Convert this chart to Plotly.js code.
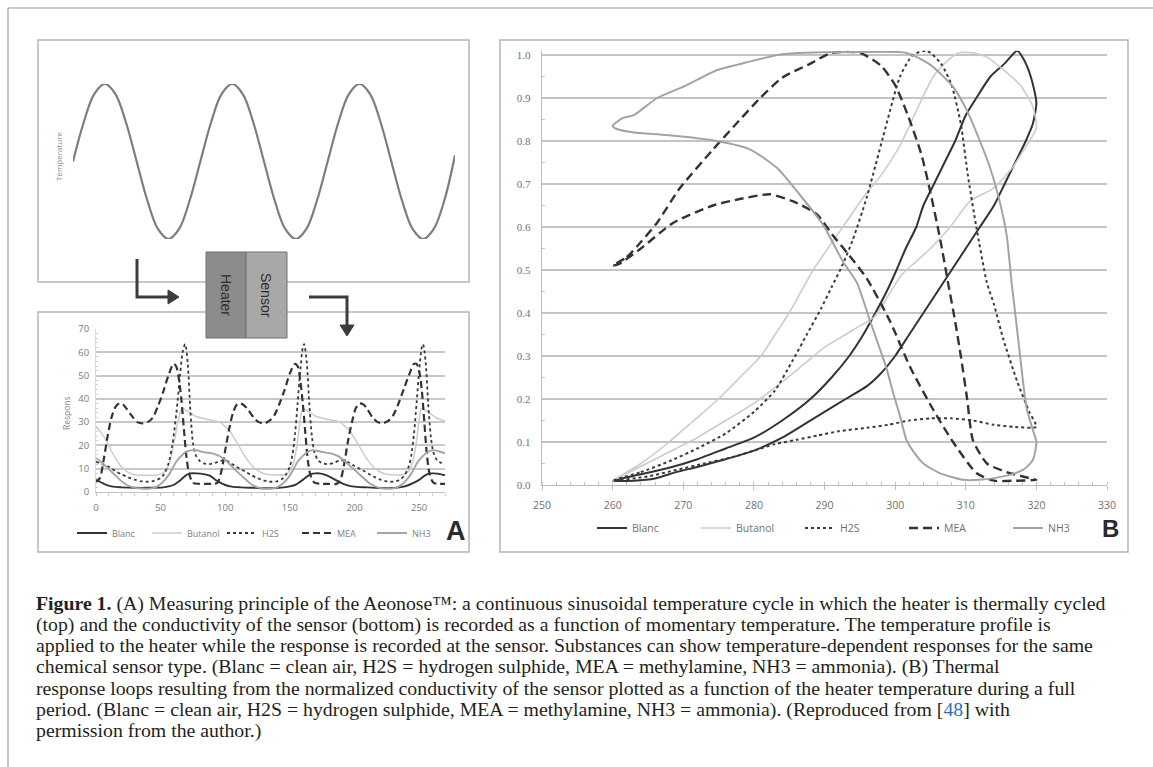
<!DOCTYPE html>
<html>
<head>
<meta charset="utf-8">
<script src="https://cdn.plot.ly/plotly-3.0.1.min.js"></script>
<style>html,body{margin:0;padding:0;background:#fff;}#chart{width:1153px;height:767px;}</style>
</head>
<body>
<div id="chart"></div>
<script>
// ---------- Panel A top: temperature profile (3 cycles, sampled 12 per cycle) ----------
const tempIdx = [0,1,2,3,4,5,6,7,8,9,10,11,12,13,14,15,16,17,18,19,20,21,22,23,24,25,26,27,28,29,30,31,32,33,34,35,36];
const tempVal = [0,0.5,0.87,1,0.87,0.5,0,-0.5,-0.87,-1,-0.87,-0.5,0,0.5,0.87,1,0.87,0.5,0,-0.5,-0.87,-1,-0.87,-0.5,0,0.5,0.87,1,0.87,0.5,0,-0.5,-0.87,-1,-0.87,-0.5,0.08];

// ---------- Panel A bottom: response vs time ----------
const aBlancT = [0,3,7,13,20,30,40,52,57,60,64,67,70,73,78,83,88,92,96,100,105,112,122,134,145,150,155,160,163,166,170,174,178,182,186,190,196,202,210,220,230,237,241,246,250,253,256,260,264,270];
const aBlancV = [5.2,4.4,3.3,2.3,2,1.8,1.8,2,2.5,3,4.5,5.9,7.3,8,8,7.7,7,5.4,4,3,2.3,2,1.8,1.6,2,2.4,3.3,5.2,6.5,7.6,8,7.9,7.2,6.2,5,3.8,2.6,2.2,2,1.7,1.7,2.2,2.8,4,5.2,6.5,7.6,8,7.9,7.2];

const aButT = [0,4,8,12,16,20,24,28,32,40,47,51,54,57,60,63,65,67,70,74,78,84,88,92,96,100,103,107,111,115,119,123,127,132,139,146,150,153,156,158,160,163,167,171,177,181,189,193,196,200,204,208,212,216,220,225,232,238,242,245,248,250,252,255,259,263,267,270];
const aButV = [28,25.5,22,17.5,13.7,10.5,8.7,7.6,7.3,7.2,7.3,8,9.4,13,20,29,34,36,35,33.5,32.3,31.5,31,30.5,30,28,26.6,23,19.4,15.5,12.4,10,8.6,7.6,7.3,7.5,9,13,22,31,36,35,33.5,32.3,31.5,31,30,28,26.6,23,19.4,15.5,12.4,10,8.6,7.6,7.3,7.5,9,13,22,31,36,35,33.5,32,31,30.5];

const aH2ST = [0,5,10,15,20,25,30,35,40,45,50,53,56,59,62,65,67,69,71,73,75,77,80,84,88,92,96,100,104,108,112,116,120,124,128,132,136,140,144,147,150,152,154,156,158,160,161,163,165,167,169,172,176,180,184,188,192,196,200,204,208,212,216,220,224,228,232,236,239,242,244,246,248,250,252,253,255,257,259,261,264,267,270];
const aH2SV = [13,12,10.8,9,7.5,6.3,5.3,4.6,4.4,4.8,6,8,12,20,33,50,60,63.5,55,35,21,16,13.5,12.2,12,12.5,13.3,13.6,12.5,11,9.8,8.6,7.3,6.2,5.3,4.7,4.4,4.6,5.6,7.5,11,16,25,38,52,62,63.5,56,38,24,17,13.5,12.2,12,12.5,13.5,13.5,12.5,11.2,10,8.8,7.5,6.3,5.3,4.7,4.4,4.6,5.6,7.5,11,16,25,38,52,62,63.5,56,38,24,17,13.5,12.5,12];

const aMEAT = [0,3,6,9,12,15,18,21,24,28,32,36,40,44,48,52,56,60,62,64,66,68,70,72,75,80,85,90,94,97,100,103,106,109,112,115,118,122,126,130,134,138,142,146,150,154,156,158,160,162,164,166,169,175,180,186,189,192,195,198,201,204,207,210,214,218,222,226,230,234,238,242,246,248,250,252,254,256,258,261,265,270];
const aMEAV = [4,6,14,24,32,36.5,38,37.5,35.5,32.5,30,29.5,30,32,37,43,50,55,54,49,40,27,15,8,4,3.5,3.5,3.5,4,9,18,27,34,37.5,38,37,35,32,30,29.5,30.5,33,38,44,51,55,54,48,38,25,13,7,4,3.5,3.5,3.5,5,12,22,30,36,38,37.5,35.5,32,30,29.5,30.5,33,38,44,50,55,55,52,44,30,16,8,4,3.5,3.5];

const aNH3T = [0,4,8,12,16,20,24,29,35,42,46,49,53,57,62,66,70,75,79,83,90,94,98,102,106,110,114,118,121,125,129,136,140,143,147,151,156,160,164,168,172,177,183,187,191,195,199,203,207,211,214,218,222,229,233,236,240,244,249,253,257,261,265,270];
const aNH3V = [14.6,12.8,10.9,8.7,6.6,4.5,3,1.9,1.5,1.5,2,3,5,8,13,15.5,17.3,18,17.8,17.1,16.6,15.8,14.6,12.8,10.5,8.3,6.3,4.3,3,2,1.5,1.5,2,3,5,8,13,15.5,17.3,18,17.6,17,16.4,15.5,14,12,10,8,6,4,3,2,1.5,1.5,2,3,5,8,13,15.5,17.3,18,17.5,16.6];

// ---------- Panel B: normalized response vs heater temperature (loops) ----------
const bBlancT = [260,263,266,269,272,276,280,284,287,290,293,296,298,300,302,304,306,308,310,312,314,315.5,317,318.5,319.5,320,319.2,318.2,317.3,315.5,313.5,311.5,310,308.5,307,305.5,304,303,301.5,300.2,298.8,297.2,295.5,293.5,291,288,284,280,276,272,268,264,260];
const bBlancV = [0.01,0.01,0.015,0.03,0.042,0.06,0.08,0.11,0.14,0.17,0.2,0.23,0.26,0.3,0.35,0.4,0.45,0.5,0.55,0.6,0.65,0.7,0.75,0.8,0.84,0.89,0.95,0.99,1.01,0.98,0.95,0.9,0.86,0.8,0.75,0.7,0.65,0.6,0.55,0.5,0.45,0.4,0.35,0.3,0.25,0.2,0.15,0.11,0.085,0.06,0.04,0.025,0.01];

const bButT = [260,263,266,269,272,276,280,284,287,290,293,295,297,299,301,303,305,307.8,310.6,313.9,316.7,318.6,320,319.5,317.7,315,313,311,309,307,305.4,303,300.7,298,296,292.6,288.4,285,283,281,278,275,271.5,268,264,260];
const bButV = [0.01,0.035,0.06,0.085,0.11,0.15,0.19,0.24,0.28,0.32,0.35,0.37,0.39,0.44,0.49,0.52,0.55,0.6,0.66,0.69,0.74,0.79,0.83,0.88,0.93,0.97,0.995,1.005,1.005,0.98,0.95,0.87,0.79,0.72,0.68,0.6,0.5,0.4,0.35,0.3,0.25,0.2,0.15,0.1,0.05,0.01];

const bH2ST = [260,264,268,272,276,280,283,285.5,287.5,289.5,291,292.5,294,296,298.3,300.7,302.5,304.5,306.5,308,309.3,310.3,311.5,313,314,315.3,317.3,319,320,317,314,311,308,305,302,299,296,292,289,286,283,280,277,273,269,265,260];
const bH2SV = [0.01,0.03,0.055,0.085,0.12,0.17,0.22,0.29,0.35,0.41,0.46,0.51,0.57,0.67,0.81,0.95,1.0,1.01,0.98,0.93,0.84,0.72,0.6,0.47,0.42,0.34,0.24,0.17,0.135,0.135,0.14,0.15,0.155,0.155,0.15,0.14,0.133,0.125,0.115,0.105,0.095,0.08,0.065,0.05,0.035,0.02,0.01];

const bMEAT = [260,262,264,266.3,269.5,274.2,277.5,280.9,284,288,291,295,298,300,301.8,303.7,305,306.4,307.5,308.5,309.3,310.2,311,313,315.8,319,320,317,314,311.5,308.2,305.4,302.1,299.3,296,293.2,291.2,288.9,285.5,282.3,278,274.2,268.6,264,261,260];
const bMEAV = [0.51,0.53,0.565,0.61,0.69,0.78,0.84,0.9,0.947,0.98,1.005,1.005,0.975,0.93,0.86,0.77,0.68,0.57,0.47,0.38,0.3,0.2,0.105,0.05,0.03,0.016,0.012,0.01,0.01,0.028,0.1,0.175,0.275,0.38,0.48,0.54,0.58,0.63,0.66,0.676,0.665,0.65,0.61,0.55,0.515,0.51];

const bNH3T = [260,261.4,263,266.3,270.5,274.8,279,283.3,287,295,301.6,305,308.2,310.2,312,313.4,314.8,315.8,316.5,317,317.7,318.6,319.5,320,319.5,318.1,315.3,312,309.6,306.4,304,302.5,301.6,300.7,299.8,298.8,297.9,296.4,294.6,292.6,289.8,286.5,283.3,279.5,274.8,267.7,263,260.6,260];
const bNH3V = [0.835,0.853,0.86,0.9,0.93,0.965,0.983,1.0,1.005,1.007,1.005,0.977,0.926,0.87,0.8,0.74,0.66,0.58,0.47,0.4,0.3,0.18,0.128,0.1,0.058,0.035,0.02,0.012,0.012,0.027,0.05,0.08,0.105,0.16,0.21,0.27,0.314,0.384,0.47,0.52,0.605,0.675,0.737,0.78,0.8,0.814,0.82,0.828,0.835];

const seriesNames = ['Blanc','Butanol','H2S','MEA','NH3'];
const captionLines = [
  '<b>Figure 1.</b> (A) Measuring principle of the Aeonose™: a continuous sinusoidal temperature cycle in which the heater is thermally cycled',
  '(top) and the conductivity of the sensor (bottom) is recorded as a function of momentary temperature. The temperature profile is',
  'applied to the heater while the response is recorded at the sensor. Substances can show temperature-dependent responses for the same',
  'chemical sensor type. (Blanc = clean air, H2S = hydrogen sulphide, MEA = methylamine, NH3 = ammonia). (B) Thermal',
  'response loops resulting from the normalized conductivity of the sensor plotted as a function of the heater temperature during a full',
  'period. (Blanc = clean air, H2S = hydrogen sulphide, MEA = methylamine, NH3 = ammonia). (Reproduced from [<span style="color:#2a6ebb">48</span>] with',
  'permission from the author.)'
];

// ---------- layout helpers (pixel -> paper) ----------
const W = 1153, H = 767;
const X = p => p / W;
const Y = p => 1 - p / H;

const stylesA = {
  Blanc:   {color:'#333333', width:1.9, dash:'solid'},
  Butanol: {color:'#cccccc', width:1.5, dash:'solid'},
  H2S:     {color:'#3a3a3a', width:1.8, dash:'dot'},
  MEA:     {color:'#333333', width:2.2, dash:'7px,4px'},
  NH3:     {color:'#a3a3a3', width:1.9, dash:'solid'}
};
const stylesB = {
  Blanc:   {color:'#333333', width:2,   dash:'solid'},
  Butanol: {color:'#cccccc', width:1.6, dash:'solid'},
  H2S:     {color:'#3a3a3a', width:2,   dash:'dot'},
  MEA:     {color:'#333333', width:2.4, dash:'9px,5px'},
  NH3:     {color:'#a3a3a3', width:2,   dash:'solid'}
};

const aData = [[aBlancT,aBlancV],[aButT,aButV],[aH2ST,aH2SV],[aMEAT,aMEAV],[aNH3T,aNH3V]];
const bData = [[bBlancT,bBlancV],[bButT,bButV],[bH2ST,bH2SV],[bMEAT,bMEAV],[bNH3T,bNH3V]];

const traces = [];
traces.push({x: tempIdx, y: tempVal, xaxis:'x', yaxis:'y', mode:'lines', showlegend:false,
  line:{color:'#7d7d7d', width:2.2, shape:'spline', smoothing:1}, hoverinfo:'skip'});

seriesNames.forEach((n,i) => {
  const s = stylesA[n];
  traces.push({x: aData[i][0], y: aData[i][1], xaxis:'x2', yaxis:'y2', mode:'lines', name:n,
    legend:'legend2', line:{color:s.color, width:s.width, dash:s.dash, shape:'spline', smoothing:0.8}, cliponaxis:false});
});
seriesNames.forEach((n,i) => {
  const s = stylesB[n];
  traces.push({x: bData[i][0], y: bData[i][1], xaxis:'x3', yaxis:'y3', mode:'lines', name:n,
    legend:'legend', line:{color:s.color, width:s.width, dash:s.dash, shape:'spline', smoothing:0.6}, cliponaxis:false});
});

const tickFontA = {family:'Open Sans, Liberation Sans, sans-serif', size:9.5, color:'#7a7a7a'};
const tickFontB = {family:'Open Sans, Liberation Sans, sans-serif', size:10.5, color:'#707070'};

function rect(x0,y0,x1,y1,o){ return Object.assign({type:'rect', xref:'paper', yref:'paper', x0:X(x0), x1:X(x1), y0:Y(y0), y1:Y(y1)}, o); }
function path(pts, close, o){
  let d = pts.map((p,i)=>(i?'L':'M')+X(p[0])+','+Y(p[1])).join(' ') + (close?' Z':'');
  return Object.assign({type:'path', xref:'paper', yref:'paper', path:d}, o);
}
function label(x, y, text, font, extra){
  return Object.assign({xref:'paper', yref:'paper', x:X(x), y:Y(y), xanchor:'center', yanchor:'middle',
    text:text, showarrow:false, font:font}, extra || {});
}

const shapes = [
  // outer frame
  {type:'line', xref:'paper', yref:'paper', x0:X(8), x1:X(1153), y0:Y(8), y1:Y(8), line:{color:'#9a9a9a', width:1.2}},
  {type:'line', xref:'paper', yref:'paper', x0:X(8), x1:X(8), y0:Y(8), y1:Y(767), line:{color:'#9a9a9a', width:1.2}},
  // panel boxes
  rect(38,40,469,282,{line:{color:'#b5b5b5', width:1.5}, layer:'below'}),
  rect(38,312,469,552,{line:{color:'#b5b5b5', width:1.5}, layer:'below'}),
  rect(500,40,1128,552,{line:{color:'#b5b5b5', width:1.5}, layer:'below'}),
  // heater / sensor block
  rect(206,252,246,338,{fillcolor:'#8c8c8c', line:{color:'#707070', width:1}, layer:'above'}),
  rect(246,252,287,338,{fillcolor:'#a8a8a8', line:{color:'#707070', width:1}, layer:'above'}),
  // arrows
  path([[137,259],[137,297],[170,297]], false, {line:{color:'#3c3c3c', width:3}, layer:'above'}),
  path([[168,290],[179,297],[168,304]], true, {fillcolor:'#3c3c3c', line:{color:'#3c3c3c', width:1}, layer:'above'}),
  path([[309,297],[347,297],[347,326]], false, {line:{color:'#3c3c3c', width:3}, layer:'above'}),
  path([[340,325],[347,336],[354,325]], true, {fillcolor:'#3c3c3c', line:{color:'#3c3c3c', width:1}, layer:'above'})
];

const annotations = [
  label(58, 157, 'Temperature', {family:'Open Sans, Liberation Sans, sans-serif', size:8, color:'#888'}, {textangle:-90}),
  label(66, 413, 'Respons', {family:'Open Sans, Liberation Sans, sans-serif', size:8.5, color:'#888'}, {textangle:-90}),
  label(226, 295, 'Heater', {family:'Liberation Sans, sans-serif', size:14, color:'#2e2e2e'}, {textangle:90}),
  label(266, 295, 'Sensor', {family:'Liberation Sans, sans-serif', size:14, color:'#2e2e2e'}, {textangle:90}),
  label(456, 531, '<b>A</b>', {family:'Liberation Sans, sans-serif', size:27, color:'#2a2a2a'}),
  label(1110, 528, '<b>B</b>', {family:'Liberation Sans, sans-serif', size:24, color:'#2a2a2a'})
];
captionLines.forEach((t,i) => {
  annotations.push({xref:'paper', yref:'paper', x:X(34), y:Y(603 + 21.2*i), xanchor:'left', yanchor:'middle',
    text:t, showarrow:false, align:'left', font:{family:'Liberation Serif, serif', size:19.8, color:'#231f20'}});
});

const layout = {
  width: W, height: H, margin:{l:0,r:0,t:0,b:0,autoexpand:false}, paper_bgcolor:'#fff', plot_bgcolor:'rgba(0,0,0,0)',
  showlegend: true,
  xaxis:{domain:[X(73),X(455)], range:[0,36], visible:false, anchor:'y'},
  yaxis:{domain:[Y(239),Y(84)], range:[-1,1], visible:false, anchor:'x'},
  xaxis2:{domain:[X(96),X(445)], range:[0,270], anchor:'y2', tickvals:[0,50,100,150,200,250], showgrid:false, zeroline:false,
    showline:true, linecolor:'#c4c4c4', linewidth:1, ticks:'outside', ticklen:3, tickcolor:'#c4c4c4', tickfont:tickFontA,
    minor:{dtick:10, ticks:'outside', ticklen:3, tickcolor:'#cfcfcf'}, ticklabelstandoff:4, automargin:false},
  yaxis2:{domain:[Y(492),Y(329)], range:[0,70], anchor:'x2', dtick:10, showgrid:true, gridcolor:'#c8c8c8', gridwidth:2, zeroline:false,
    showline:true, linecolor:'#dadada', linewidth:1, ticks:'', tickfont:tickFontA, ticklabelstandoff:4, automargin:false,
    minor:{dtick:2, ticks:'inside', ticklen:2, tickcolor:'#d0d0d0'}},
  xaxis3:{domain:[X(542),X(1107)], range:[250,330], anchor:'y3', dtick:10, showgrid:false, zeroline:false,
    showline:true, linecolor:'#bdbdbd', linewidth:1.2, ticks:'outside', ticklen:4, tickcolor:'#bdbdbd', tickfont:tickFontB,
    minor:{dtick:2, ticks:'inside', ticklen:3, tickcolor:'#c4c4c4'}, ticklabelstandoff:6, automargin:false},
  yaxis3:{domain:[Y(485),Y(50.7)], range:[0,1.01], anchor:'x3', dtick:0.1, tickformat:'.1f', showgrid:true, gridcolor:'#c4c4c4', gridwidth:2,
    zeroline:false, showline:true, linecolor:'#bdbdbd', linewidth:1.2, ticks:'', ticklabelstandoff:8, automargin:false,
    tickfont:{family:'Liberation Serif, serif', size:11, color:'#707070'},
    minor:{dtick:0.05, ticks:'inside', ticklen:3, tickcolor:'#c4c4c4'}},
  legend:{orientation:'h', x:X(592), y:Y(528), xanchor:'left', yanchor:'middle', entrywidth:59, entrywidthmode:'pixels',
    font:{family:'Open Sans, Liberation Sans, sans-serif', size:10.5, color:'#707070'}, bgcolor:'rgba(0,0,0,0)', traceorder:'normal'},
  legend2:{orientation:'h', x:X(72), y:Y(533), xanchor:'left', yanchor:'middle', entrywidth:30, entrywidthmode:'pixels',
    font:{family:'Open Sans, Liberation Sans, sans-serif', size:9, color:'#808080'}, bgcolor:'rgba(0,0,0,0)', traceorder:'normal'},
  shapes: shapes,
  annotations: annotations
};

Plotly.newPlot('chart', traces, layout, {staticPlot:true, displayModeBar:false});
</script>
</body>
</html>
